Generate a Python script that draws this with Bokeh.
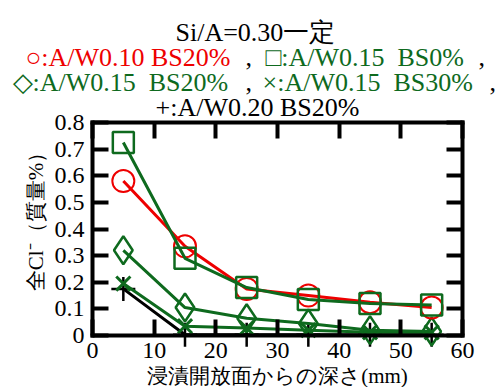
import math
from bokeh.plotting import figure
from bokeh.models import Range1d, FixedTicker, LinearAxis, Label
from bokeh.embed import file_html
from bokeh.resources import INLINE

# ---- data ----
depth = [5, 15, 25, 35, 45, 55]
aw010_bs20 = [0.58, 0.335, 0.175, 0.15, 0.125, 0.105]
aw015_bs0 = [0.725, 0.29, 0.18, 0.135, 0.12, 0.115]
aw015_bs20 = [0.32, 0.105, 0.065, 0.045, 0.02, 0.015]
aw015_bs30 = [0.195, 0.035, 0.028, 0.02, 0.012, 0.012]
aw020_bs20 = [0.175, 0.003, 0.003, 0.003, 0.003, 0.003]

x_ticks = [0, 10, 20, 30, 40, 50, 60]
y_ticks = [0, 0.1, 0.2, 0.3, 0.4, 0.5, 0.6, 0.7, 0.8]
y_tick_labels = ["0", "0.1", "0.2", "0.3", "0.4", "0.5", "0.6", "0.7", "0.8"]
X_MIN, X_MAX = 0, 60
Y_MIN, Y_MAX = 0, 0.8

NS = " \u00a0"
title_line1 = "Si/A=0.30一定"
title_line2 = ["○:A/W0.10 BS20%", ",", "□:A/W0.15" + NS + "BS0%", ","]
title_line3 = ["◇:A/W0.15" + NS + "BS20%", ",", "×:A/W0.15" + NS + "BS30%", ","]
title_line4 = "+:A/W0.20 BS20%"
x_label = "浸漬開放面からの深さ(mm)"
y_label = "全Cl⁻（質量%）"

RED = "#ee0000"
GREEN = "#0e6a1e"
FONT = "Liberation Serif"

# ---- layout (figure pixels) ----
W, H = 498, 387
PL, PR, PT, PB = 92, 462, 122, 335     # plot box edges inside the figure

xs = (X_MAX - X_MIN) / (PR - PL)
ys = (Y_MAX - Y_MIN) / (PB - PT)
x_range = Range1d(X_MIN - PL * xs, X_MAX + (W - PR) * xs)
y_range = Range1d(Y_MIN - (H - PB) * ys, Y_MAX + PT * ys)

p = figure(width=W, height=H, output_backend="svg", toolbar_location=None,
           x_range=x_range, y_range=y_range,
           x_axis_type=None, y_axis_type=None, min_border=0,
           outline_line_color=None)
p.grid.visible = False

bottom_ax = LinearAxis(fixed_location=Y_MIN, bounds=(X_MIN, X_MAX))
top_ax = LinearAxis(fixed_location=Y_MAX, bounds=(X_MIN, X_MAX))
left_ax = LinearAxis(fixed_location=X_MIN, bounds=(Y_MIN, Y_MAX))
right_ax = LinearAxis(fixed_location=X_MAX, bounds=(Y_MIN, Y_MAX))
p.add_layout(bottom_ax, "below")
p.add_layout(top_ax, "above")
p.add_layout(left_ax, "left")
p.add_layout(right_ax, "right")

for ax in [bottom_ax, top_ax]:
    ax.ticker = FixedTicker(ticks=x_ticks)
for ax in [left_ax, right_ax]:
    ax.ticker = FixedTicker(ticks=y_ticks)

for ax in [bottom_ax, left_ax, top_ax, right_ax]:
    ax.major_tick_in = 16
    ax.major_tick_out = 0
    ax.major_tick_line_width = 4
    ax.major_tick_line_color = "black"
    ax.minor_tick_line_color = None
    ax.axis_line_width = 4
    ax.axis_line_color = "black"
    ax.axis_line_cap = "square"
    ax.major_label_text_font = FONT
    ax.major_label_text_font_size = "24px"
    ax.major_label_text_color = "black"

left_ax.major_label_overrides = {tk: lb for tk, lb in zip(y_ticks, y_tick_labels)}
left_ax.major_label_standoff = 8
bottom_ax.major_label_standoff = 7
top_ax.major_label_overrides = {tk: "" for tk in x_ticks}
right_ax.major_label_overrides = {tk: "" for tk in y_ticks}

# ---- series ----
p.line(depth, aw020_bs20, line_color="black", line_width=3)
p.scatter(depth, aw020_bs20, marker="cross", size=24, line_color="black", line_width=2.5)

p.line(depth, aw015_bs30, line_color=GREEN, line_width=3)
p.scatter(depth, aw015_bs30, marker="x", size=20, line_color=GREEN, line_width=3)

p.line(depth, aw015_bs20, line_color=GREEN, line_width=3)
p.scatter(depth, aw015_bs20, marker="diamond", size=28, fill_alpha=0, line_color=GREEN, line_width=2.5)

p.line(depth, aw010_bs20, line_color=RED, line_width=3)
p.scatter(depth, aw010_bs20, marker="circle", size=22, fill_alpha=0, line_color=RED, line_width=2)

p.line(depth, aw015_bs0, line_color=GREEN, line_width=3)
p.scatter(depth, aw015_bs0, marker="square", size=21, fill_alpha=0, line_color=GREEN, line_width=2.5)

# ---- texts (figure px measured from top-left -> screen px) ----
def lab(text, x, y, color="black", size="26px", align="left", baseline="alphabetic", angle=0):
    p.add_layout(Label(x=x, y=H - y, x_units="screen", y_units="screen",
                       text=text, text_color=color, text_font=FONT, text_font_size=size,
                       text_align=align, text_baseline=baseline, angle=angle))

lab(title_line1, 175, 32)
lab(title_line2[0], 25, 57, RED)
lab(title_line2[1], 245, 57)
lab(title_line2[2], 265, 57, GREEN)
lab(title_line2[3], 478, 57)
lab(title_line3[0], 12, 82, GREEN)
lab(title_line3[1], 245, 82)
lab(title_line3[2], 262, 82, GREEN)
lab(title_line3[3], 489, 82)
lab(title_line4, 257, 107, align="center")

lab(x_label, 277, 375, size="21px", align="center", baseline="middle")
lab(y_label, 35, 216, size="21px", align="center", baseline="middle", angle=math.pi / 2)

open("out.html", "w").write(file_html(p, INLINE))
